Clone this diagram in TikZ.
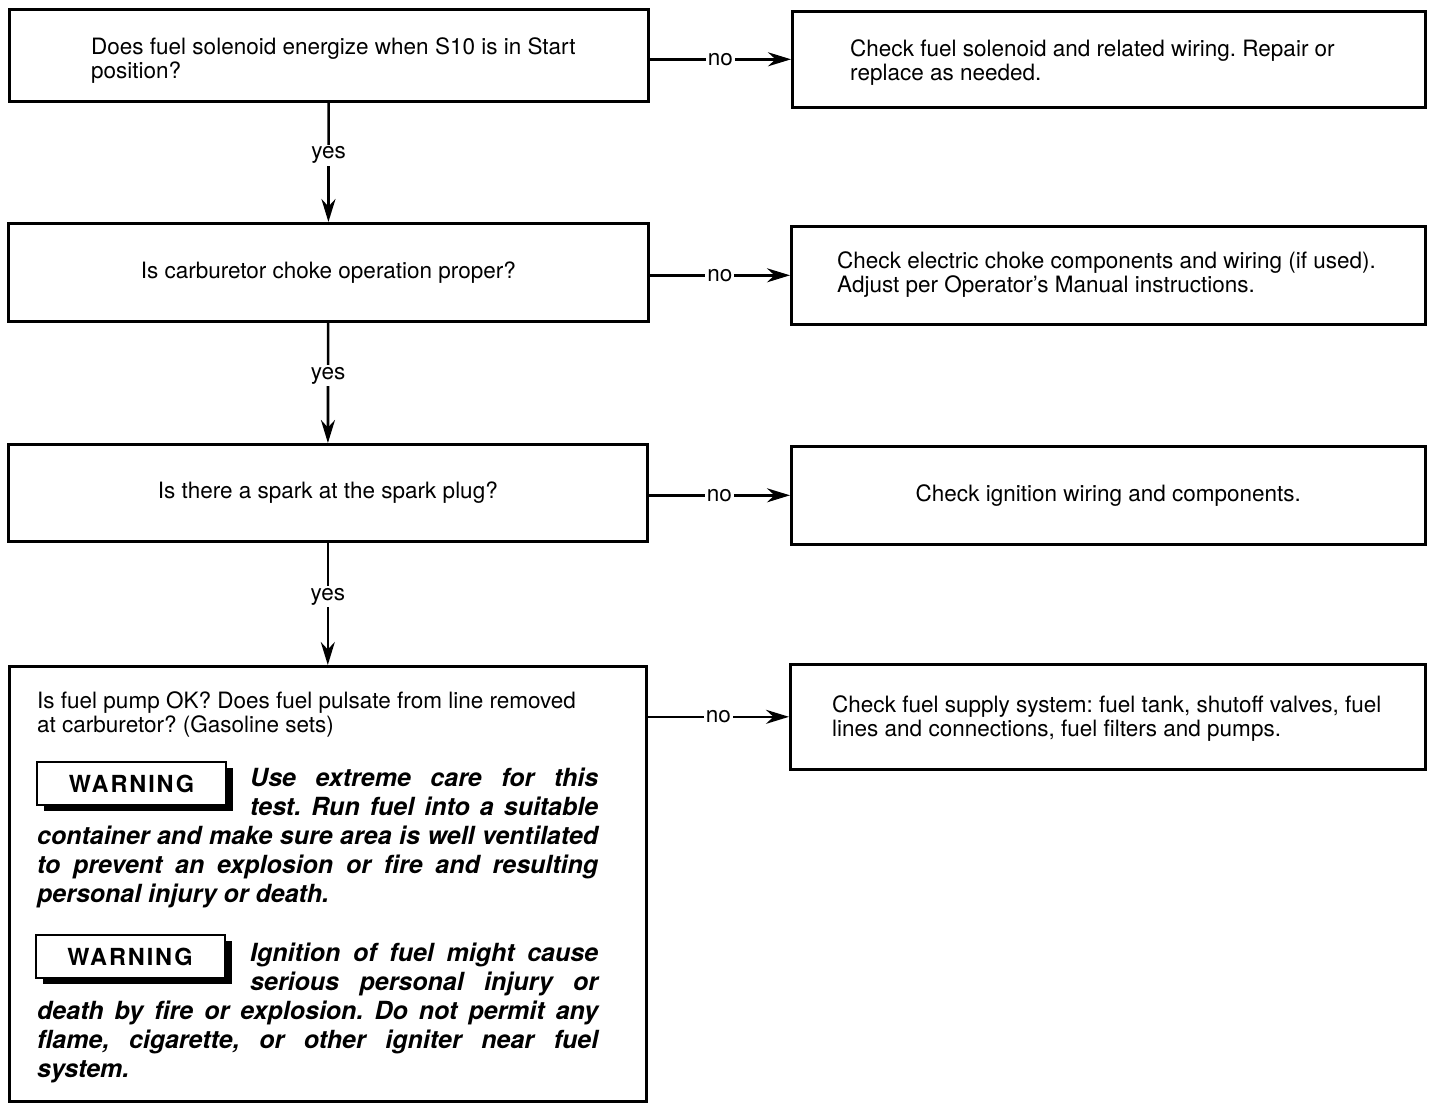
\documentclass[tikz,border=0pt]{standalone}
\usepackage{fontspec}
\setmainfont{TeX Gyre Heros}
\frenchspacing
\usetikzlibrary{arrows.meta,positioning,shadows}
\tikzset{
  qbox/.style={draw,line width=2.6pt,anchor=north west,inner sep=0pt,align=center,font=\fontsize{22.5}{24}\selectfont},
  txt/.style={align=left,inner sep=0pt,anchor=base west,font=\fontsize{22.5}{24}\selectfont},
  ar/.style={-{Stealth[length=23pt,width=14pt]},line width=2.6pt},
  lbl/.style={fill=white,inner sep=2pt,font=\fontsize{22.5}{24}\selectfont},
  badge/.style={draw,line width=2pt,fill=white,minimum width=189pt,minimum height=43pt,inner sep=0pt,
    drop shadow={shadow xshift=7pt,shadow yshift=-6pt,fill=black,opacity=1},
    font=\fontsize{23.5}{24}\selectfont\bfseries\addfontfeatures{LetterSpace=8}},
  warntxt/.style={text width=561pt,align=justify,inner sep=0pt,anchor=base west,
    font=\fontsize{25}{29}\selectfont\bfseries\itshape}
}
\begin{document}
\begin{tikzpicture}[x=1pt,y=-1pt]
\useasboundingbox (0,0) rectangle (1431,1104);
% questions
\node[qbox,minimum width=639pt,minimum height=92pt] (q1) at (8,8) {};
\node[qbox,minimum width=640pt,minimum height=98pt] (q2) at (7,222) {Is carburetor choke operation proper?};
\node[qbox,minimum width=639pt,minimum height=97pt] (q3) at (7,443) {Is there a spark at the spark plug?};
\node[qbox,minimum width=637pt,minimum height=435pt] (q4) at (8,665) {};
\node[txt] (q1t) at (91,78) {Does fuel solenoid energize when S10 is in Start\\position?};
\node[txt] (q4t) at (37,732) {Is fuel pump OK? Does fuel pulsate from line removed\\at carburetor? (Gasoline sets)};
% actions
\node[qbox,minimum width=633pt,minimum height=96pt] (r1) at (791,10) {};
\node[qbox,minimum width=634pt,minimum height=98pt] (r2) at (790,225) {};
\node[qbox,minimum width=634pt,minimum height=98pt] (r3) at (790,445) {Check ignition wiring and components.};
\node[qbox,minimum width=635pt,minimum height=105pt] (r4) at (789,663) {};
\node[txt] (r1t) at (850,80) {Check fuel solenoid and related wiring. Repair or\\replace as needed.};
\node[txt] (r2t) at (837,292) {Check electric choke components and wiring (if used).\\Adjust per Operator’s Manual instructions.};
\node[txt] (r4t) at (832,736) {Check fuel supply system: fuel tank, shutoff valves, fuel\\lines and connections, fuel filters and pumps.};
% warnings
\node[badge] (w1) at (131.5,783.5) {WARNING};
\node[badge] (w2) at (130,956.5) {WARNING};
\node[warntxt] (w1t) at (37,786) {\hangindent=213pt\hangafter=-2 Use extreme care for this\linebreak test. Run fuel into a suitable\linebreak container and make sure area is well ventilated\linebreak to prevent an explosion or fire and resulting\linebreak personal injury or death.\par};
\node[warntxt] (w2t) at (37,961) {\hangindent=213pt\hangafter=-2 Ignition of fuel might cause\linebreak serious personal injury or\linebreak death by fire or explosion. Do not permit any\linebreak flame, cigarette, or other igniter near fuel\linebreak system.\par};
% connectors
\draw[ar] (q1) -- (q2) node[lbl,pos=0.44] {yes};
\draw[ar] (q2) -- (q3) node[lbl,pos=0.44] {yes};
\draw[ar] (q3) -- (q4) node[lbl,pos=0.44] {yes};
\draw[ar] (r1.west -| q1.east) -- (r1.west) node[lbl,midway] {no};
\draw[ar] (r2.west -| q2.east) -- (r2.west) node[lbl,midway] {no};
\draw[ar] (r3.west -| q3.east) -- (r3.west) node[lbl,midway] {no};
\draw[ar] (r4.west -| q4.east) -- (r4.west) node[lbl,midway] {no};
\end{tikzpicture}
\end{document}
